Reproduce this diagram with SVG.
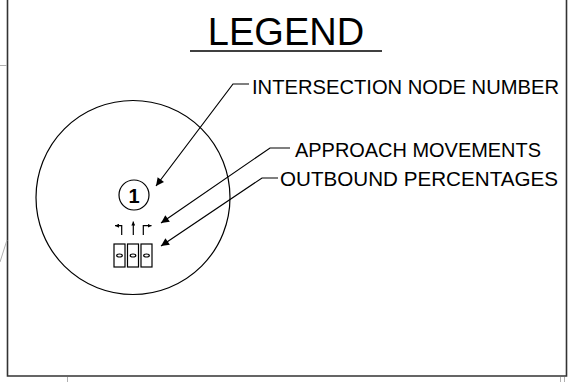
<svg xmlns="http://www.w3.org/2000/svg" width="573" height="382" viewBox="0 0 573 382">
<defs>
<style>
.ln{fill:none;stroke:#000;stroke-width:1.2}
.gr{fill:none;stroke:#b0b0b0;stroke-width:1}
.lbl{font-family:"Liberation Sans",Arial,sans-serif;font-size:20.8px;fill:#000}
</style>
<marker id="ah" viewBox="0 0 10 10" refX="10" refY="5" markerWidth="10" markerHeight="8" markerUnits="userSpaceOnUse" orient="auto">
<path d="M0,0 L10,5 L0,10 Z" fill="#000"/>
</marker>
<marker id="sa" viewBox="0 0 10 10" refX="10" refY="5" markerWidth="4" markerHeight="4" markerUnits="userSpaceOnUse" orient="auto">
<path d="M0,0 L10,5 L0,10 Z" fill="#000"/>
</marker>
</defs>
<rect width="573" height="382" fill="#fff"/>
<g id="frame">
<path d="M7.5,-2 V376 H566.5 V-2" fill="none" stroke="#333" stroke-width="1.6"/>
<path class="gr" d="M0,65.5 H7 M0,262 L7,240 M67.5,377 V382 M560.5,377 V382 M564.5,377 V382"/>
</g>
<g id="title">
<text x="286" y="45" text-anchor="middle" style="font-family:'Liberation Sans',Arial,sans-serif;font-size:38px;fill:#000">LEGEND</text>
<line x1="190" y1="51" x2="382" y2="51" stroke="#000" stroke-width="1.5"/>
</g>
<g id="legend-circle">
<circle class="ln" cx="133" cy="197.5" r="97"/>
</g>
<g id="node-1">
<circle class="ln" cx="134" cy="195" r="15"/>
<text x="134" y="202.5" text-anchor="middle" style="font-family:'Liberation Sans',Arial,sans-serif;font-size:20px;font-weight:bold;fill:#000">1</text>
</g>
<g id="approach-movements">
<path class="ln" d="M121.7,235 V225.7 H115" marker-end="url(#sa)"/>
<path class="ln" d="M133.3,235 V221.5" marker-end="url(#sa)"/>
<path class="ln" d="M143.3,235 V225.7 H151.5" marker-end="url(#sa)"/>
</g>
<g id="outbound-percentages">
<rect class="ln" x="114" y="244" width="11" height="23"/>
<rect class="ln" x="127.5" y="244" width="11" height="23"/>
<rect class="ln" x="141" y="244" width="11" height="23"/>
<ellipse class="ln" cx="119.5" cy="255.5" rx="2.8" ry="1.5"/>
<ellipse class="ln" cx="133" cy="255.5" rx="2.8" ry="1.5"/>
<ellipse class="ln" cx="146.5" cy="255.5" rx="2.8" ry="1.5"/>
</g>
<g id="labels">
<text class="lbl" x="252" y="94" textLength="307" lengthAdjust="spacingAndGlyphs">INTERSECTION NODE NUMBER</text>
<text class="lbl" x="295" y="157" textLength="246" lengthAdjust="spacingAndGlyphs">APPROACH MOVEMENTS</text>
<text class="lbl" x="280" y="186" textLength="278" lengthAdjust="spacingAndGlyphs">OUTBOUND PERCENTAGES</text>
</g>
<g id="connectors">
<path class="ln" d="M249,84 H233 L156,186" marker-end="url(#ah)"/>
<path class="ln" d="M290,148 H270 L161,223" marker-end="url(#ah)"/>
<path class="ln" d="M278,178 H262 L161,246" marker-end="url(#ah)"/>
</g>
</svg>
